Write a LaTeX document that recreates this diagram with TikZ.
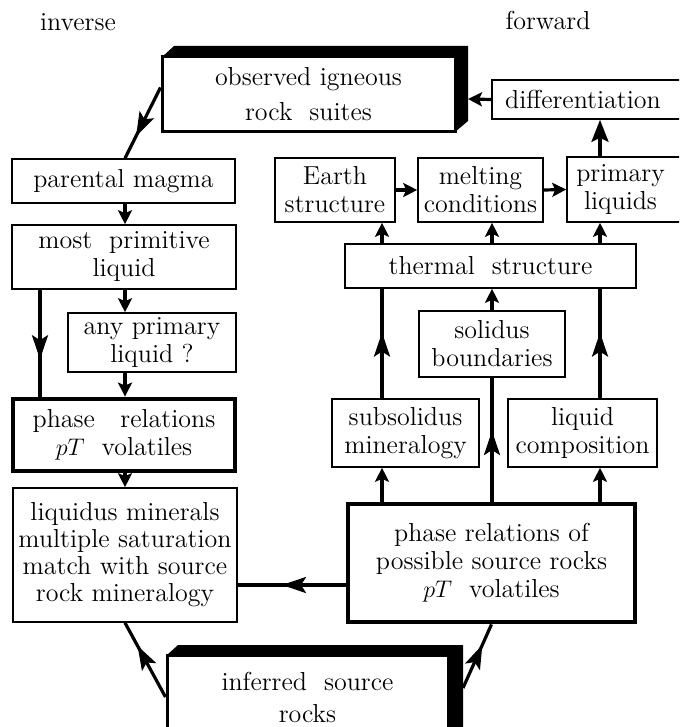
\documentclass[tikz,border=0pt]{standalone}
\usetikzlibrary{arrows.meta,decorations.markings}
\begin{document}
\begin{tikzpicture}[x=0.5pt,y=-0.5pt,
  box/.style={draw, fill=white, line width=0.8pt, inner sep=0pt, align=center,
    font=\fontsize{13}{14}\selectfont},
  thickbox/.style={box, line width=2.4pt},
  label/.style={inner sep=0pt, font=\fontsize{13}{14}\selectfont},
  conn/.style={line width=1.6pt},
  tip/.style={-{Stealth[length=7pt,width=7pt,inset=1.5pt]}},
  bigtip/.style={-{Stealth[length=11pt,width=8.5pt,inset=2pt]}},
  midarrow/.style={postaction={decorate}, decoration={markings,
    mark=at position #1 with {\arrow{Stealth[length=12pt,width=8pt,inset=2.5pt]}}}},
  midarrow/.default=0.6]
\useasboundingbox (0,0) rectangle (679,727);
\begin{scope}
\clip (0,0) rectangle (679,727);
% 3D shadows
\fill (162,57) -- (174,46) -- (468,46) -- (468,121) -- (455,132) -- cycle;
\fill (167,655) -- (178,645) -- (463,645) -- (463,740) -- (448,740) -- cycle;

\node[label] (inv) at (78,22) {inverse};
\node[label] (fwd) at (548,20) {forward};

\node[box, line width=1.5pt, minimum width=146.5pt, minimum height=37.5pt,
  font=\fontsize{13}{17.5}\selectfont] (top) at (308.5,94.5) {observed igneous\\rock\ \ suites};
\node[box, minimum width=95pt, minimum height=19.5pt] (diff) at (587,99.5) {\hspace*{-4pt}differentiation};
\node[box, minimum width=60pt, minimum height=32pt] (earth) at (335,190) {Earth\\structure};
\node[box, minimum width=62.5pt, minimum height=32pt] (melt) at (480.5,190) {melting\\conditions};
\node[box, minimum width=57.5pt, minimum height=32.5pt] (prim) at (624.5,189.5) {\hspace*{-4pt}primary\\\hspace*{-4pt}liquids};
\node[box, minimum width=145.5pt, minimum height=22pt] (thermal) at (490.5,266) {thermal\ \ structure};
\node[box, minimum width=73pt, minimum height=33pt] (solidus) at (492,344) {solidus\\boundaries};
\node[box, minimum width=73.5pt, minimum height=34pt] (subsol) at (405.5,433) {subsolidus\\mineralogy};
\node[box, minimum width=74.5pt, minimum height=34pt] (liqcomp) at (582.5,433) {liquid\\composition};
\node[thickbox, minimum width=143.5pt, minimum height=59pt] (bigsrc) at (491.5,563)
  {phase relations of\\possible source rocks\\$pT$\ \ volatiles};

\node[box, minimum width=111.5pt, minimum height=22pt] (parental) at (123.5,181) {parental magma};
\node[box, minimum width=112pt, minimum height=32pt] (primliq) at (124,257) {most\ \ primitive\\liquid};
\node[box, minimum width=84pt, minimum height=29.5pt] (anyprim) at (152,342.5) {any primary\\liquid ?};
\node[thickbox, minimum width=111pt, minimum height=36pt] (phase) at (124,435) {phase\ \ \ relations\\$pT$\ \ volatiles};
\node[box, minimum width=112pt, minimum height=67pt, font=\fontsize{13}{13.5}\selectfont] (liquidus) at (125,555)
  {liquidus minerals\\multiple saturation\\match with source\\rock mineralogy};
\node[box, line width=1.5pt, minimum width=140.5pt, minimum height=42pt,
  font=\fontsize{13}{16}\selectfont] (inferred) at (307.5,697) {inferred\ \ source\\rocks};

% helper coordinates
\coordinate (topR) at (468,99);
\coordinate (infR) at (463,688);
\coordinate (xA) at (382,0);
\coordinate (xB) at (492,0);
\coordinate (xC) at (600,0);
\coordinate (xL) at (40,0);
\coordinate (xM) at (125,0);
\coordinate (yS) at (0,585);

% inverse side
\draw[conn, midarrow=0.69] ([yshift=3.5pt]top.west) -- (xM |- parental.north);
\draw[conn, tip] (parental.south -| xM) -- (primliq.north -| xM);
\draw[conn, tip] (primliq.south -| xM) -- (anyprim.north -| xM);
\draw[conn, midarrow=0.65] (primliq.south -| xL) -- (phase.north -| xL);
\draw[conn, tip] (anyprim.south -| xM) -- (phase.north -| xM);
\draw[conn, tip] (phase.south -| xM) -- (liquidus.north -| xM);
\draw[conn, midarrow=0.59] (bigsrc.west |- yS) -- (liquidus.east |- yS);
\draw[conn, midarrow=0.69] (inferred.west) -- (liquidus.south);
\draw[conn, midarrow=0.68] (infR) -- (bigsrc.south);

% forward side
\draw[conn, tip] (bigsrc.north -| xA) -- (subsol.south -| xA);
\draw[conn, midarrow=0.57] (bigsrc.north -| xB) -- (solidus.south -| xB);
\draw[conn, tip] (bigsrc.north -| xC) -- (liqcomp.south -| xC);
\draw[conn, midarrow] (subsol.north -| xA) -- (thermal.south -| xA);
\draw[conn, midarrow] (liqcomp.north -| xC) -- (thermal.south -| xC);
\draw[conn, tip] (solidus.north -| xB) -- (thermal.south -| xB);
\draw[conn, tip] (thermal.north -| xA) -- (earth.south -| xA);
\draw[conn, tip] (thermal.north -| xB) -- (melt.south -| xB);
\draw[conn, tip] (thermal.north -| xC) -- (prim.south -| xC);
\draw[conn, tip] (earth.east) -- (melt.west);
\draw[conn, tip] (melt.east) -- (prim.west);
\draw[conn, bigtip] (prim.north -| xC) -- (diff.south -| xC);
\draw[conn, tip] (diff.west) -- (topR);
\end{scope}
\end{tikzpicture}
\end{document}
